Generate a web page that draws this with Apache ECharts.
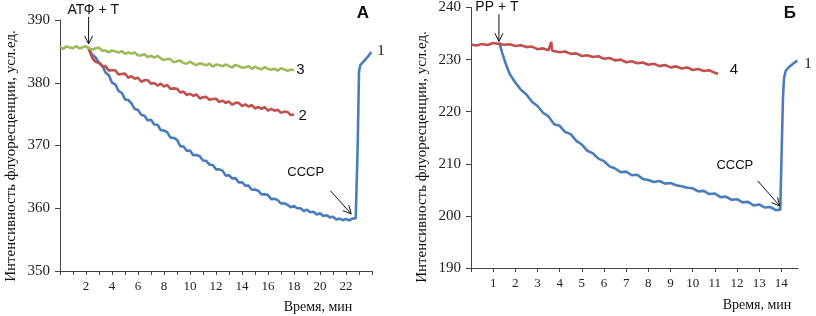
<!DOCTYPE html>
<html>
<head>
<meta charset="utf-8">
<script src="https://cdn.jsdelivr.net/npm/echarts@6.0.0/dist/echarts.min.js"></script>
<style>
    html, body {margin: 0; padding: 0; background: #fff;}
    #chart {width: 816px; height: 316px;}
</style>
</head>
<body>
<div id="chart"></div>
<script>
// панель А: [время, мин; интенсивность]
var curveA1 = [[2.2,385.5],[2.5,384.4],[2.75,384.0],[3,383.2],[3.25,382.75],[3.5,381.65],[3.75,381.2],[4,380.0],[4.25,379.75],[4.5,378.7],[4.75,378.4],[5,377.35],[5.25,377.25],[5.5,376.7],[5.75,375.8],[6,375.65],[6.25,374.9],[6.5,374.75],[6.75,374.0],[7,374.1],[7.25,373.35],[7.5,373.3],[7.75,372.45],[8,372.4],[8.25,372.1],[8.5,371.25],[8.75,371.2],[9,370.9],[9.25,369.9],[9.5,369.85],[9.75,369.15],[10,369.2],[10.25,368.45],[10.5,368.5],[10.75,368.3],[11,367.6],[11.25,367.55],[11.5,366.95],[11.75,366.9],[12,366.2],[12.25,366.2],[12.5,366.0],[12.75,365.2],[13,365.25],[13.25,364.75],[13.5,364.8],[13.75,364.1],[14,364.15],[14.25,363.6],[14.5,363.6],[14.75,362.95],[15,363.0],[15.25,362.8],[15.5,362.2],[15.75,362.25],[16,362.1],[16.25,361.45],[16.5,361.5],[16.75,361.3],[17,360.75],[17.25,360.8],[17.5,360.55],[17.75,360.15],[18,360.35],[18.25,360.0],[18.5,360.0],[18.75,359.55],[19,359.75],[19.25,359.35],[19.5,359.45],[19.75,359.0],[20,359.2],[20.25,358.75],[20.5,358.9],[20.75,358.55],[21,358.65],[21.25,358.2],[21.5,358.35],[21.75,358.1],[22,358.3],[22.25,358.05],[22.5,358.35],[22.75,358.4],[22.9,370.0],[23.0,381.8],[23.1,382.8],[23.4,383.5],[23.7,384.2],[23.95,384.9]];
var curveA2 = [[2.2,385.4],[2.5,383.9],[2.75,383.3],[3,383.2],[3.25,382.6],[3.5,382.65],[3.75,381.95],[4,382.0],[4.25,382.0],[4.5,381.3],[4.75,381.4],[5,381.45],[5.25,380.8],[5.5,381.05],[5.75,380.65],[6,380.8],[6.25,380.15],[6.5,380.4],[6.75,380.4],[7,379.85],[7.25,379.95],[7.5,379.55],[7.75,379.85],[8,379.4],[8.25,379.65],[8.5,379.0],[8.75,379.1],[9,379.05],[9.25,378.45],[9.5,378.6],[9.75,378.05],[10,378.25],[10.25,377.9],[10.5,378.15],[10.75,377.5],[11,377.7],[11.25,377.75],[11.5,377.3],[11.75,377.4],[12,377.45],[12.25,376.9],[12.5,377.15],[12.75,376.8],[13,377.0],[13.25,376.5],[13.5,376.8],[13.75,376.8],[14,376.3],[14.25,376.55],[14.5,376.2],[14.75,376.45],[15,375.9],[15.25,376.15],[15.5,375.85],[15.75,376.1],[16,375.55],[16.25,375.85],[16.5,375.55],[16.75,375.7],[17,375.2],[17.25,375.4],[17.5,375.35],[17.75,374.85],[18,374.95]];
var curveA3 = [[0,385.7],[0.25,385.4],[0.5,385.8],[0.75,385.6],[1,385.5],[1.25,385.85],[1.5,385.45],[1.75,385.65],[2,385.8],[2.25,385.45],[2.5,385.3],[2.75,385.5],[3,385.6],[3.25,385.1],[3.5,385.15],[3.75,384.85],[4,385.15],[4.25,385.0],[4.5,384.8],[4.75,385.05],[5,384.6],[5.25,384.82],[5.5,384.65],[5.75,384.83],[6,384.35],[6.25,384.37],[6.5,384.55],[6.75,384.08],[7,384.3],[7.25,384.0],[7.5,384.3],[7.75,383.9],[8,383.6],[8.25,383.8],[8.5,383.75],[8.75,383.25],[9,383.45],[9.25,383.52],[9.5,383.15],[9.75,383.03],[10,383.35],[10.25,383.05],[10.5,382.8],[10.75,383.1],[11,382.95],[11.25,382.78],[11.5,383.05],[11.75,382.57],[12,382.9],[12.25,382.83],[12.5,382.6],[12.75,382.92],[13,382.65],[13.25,382.45],[13.5,382.85],[13.75,382.65],[14,382.4],[14.25,382.48],[14.5,382.65],[14.75,382.22],[15,382.55],[15.25,382.3],[15.5,382.15],[15.75,382.5],[16,382.2],[16.25,382.08],[16.5,382.25],[16.75,381.92],[17,382.3],[17.25,382.13],[17.5,381.9],[17.75,382.12],[18,382.0]];

// панель Б
var curveB1 = [[1.28,233.3],[1.4,231.4],[1.55,229.4],[1.75,227.2],[2,225.6],[2.25,224.2],[2.5,223.3],[2.75,221.9],[3,221.1],[3.25,219.8],[3.5,219.1],[3.75,217.6],[4,217.3],[4.25,216.1],[4.5,215.7],[4.75,214.4],[5,213.7],[5.25,212.5],[5.5,212.0],[5.75,211.0],[6,210.5],[6.25,209.5],[6.5,209.1],[6.75,208.4],[7,208.5],[7.25,207.8],[7.5,207.9],[7.75,207.1],[8,206.9],[8.25,206.5],[8.5,206.7],[8.75,206.2],[9,206.3],[9.25,205.9],[9.5,205.7],[9.75,205.4],[10,205.3],[10.25,204.7],[10.5,204.8],[10.75,204.2],[11,204.3],[11.25,203.6],[11.5,203.7],[11.75,203.1],[12,203.2],[12.25,202.6],[12.5,202.7],[12.75,202.0],[13,202.2],[13.25,201.6],[13.5,201.7],[13.75,201.1],[13.95,201.2],[14.02,200.9],[14.07,222.5],[14.12,226.5],[14.2,227.9],[14.35,228.6],[14.55,229.3],[14.72,229.8]];
var curveB4 = [[0,232.9],[0.25,232.7],[0.5,233.0],[0.75,232.8],[1,233.2],[1.25,233.0],[1.5,232.85],[1.75,232.95],[2,232.6],[2.25,232.75],[2.5,232.4],[2.75,232.5],[3,232.0],[3.25,232.15],[3.5,231.8],[3.58,231.9],[3.62,233.4],[3.66,231.7],[3.75,231.85],[4,231.4],[4.25,231.55],[4.5,231.1],[4.75,231.2],[5,230.7],[5.25,230.85],[5.5,230.5],[5.75,230.65],[6,230.15],[6.25,230.3],[6.5,229.85],[6.75,230.0],[7,229.5],[7.25,229.7],[7.5,229.3],[7.75,229.45],[8,229.0],[8.25,229.2],[8.5,228.75],[8.75,228.95],[9,228.5],[9.25,228.7],[9.5,228.3],[9.75,228.5],[10,228.0],[10.25,228.2],[10.5,227.8],[10.75,227.95],[11,227.45],[11.15,227.3]];

var ticksA = [0,1,2,3,4,5,6,7,8,9,10,11,12,13,14,15,16,17,18,19,20,21,22,23,24];
var labelsA = [2,4,6,8,10,12,14,16,18,20,22];
var ticksB = [0,1,2,3,4,5,6,7,8,9,10,11,12,13,14];
var labelsB = [1,2,3,4,5,6,7,8,9,10,11,12,13,14];

var yTitle = 'Интенсивность флуоресценции, усл.ед.';
var xTitle = 'Время, мин';

var serif = '"Liberation Serif", "DejaVu Serif", serif';
var sans = '"Liberation Sans", Arial, sans-serif';

function xAxisOf(gi, max, ticks, labels) {
    return {
        type: 'value', gridIndex: gi, min: 0, max: max,
        axisLine: {onZero: false, lineStyle: {color: '#444', width: 1}},
        axisTick: {customValues: ticks, length: 4, lineStyle: {color: '#444'}},
        axisLabel: {customValues: labels, margin: 9, color: '#222', fontFamily: serif, fontSize: 13},
        splitLine: {show: false}
    };
}

function yAxisOf(gi, min, max) {
    return {
        type: 'value', gridIndex: gi, min: min, max: max, interval: 10,
        axisLine: {show: true, lineStyle: {color: '#444', width: 1}},
        axisTick: {show: true, length: 5, lineStyle: {color: '#444'}},
        axisLabel: {margin: 10, color: '#222', fontFamily: serif, fontSize: 15},
        splitLine: {show: false}
    };
}

function line(name, gi, data, color) {
    return {
        name: name, type: 'line', xAxisIndex: gi, yAxisIndex: gi,
        data: data, showSymbol: false, smooth: false,
        lineStyle: {color: color, width: 2.6}
    };
}

function init() {
    var chart = echarts.init(document.getElementById('chart'), null, {renderer: 'canvas'});
    var option = {
        animation: false,
        backgroundColor: '#fff',
        grid: [
            {left: 60, top: 20, width: 312, height: 251},
            {left: 471, top: 7, width: 327, height: 261}
        ],
        xAxis: [xAxisOf(0, 24, ticksA, labelsA), xAxisOf(1, 14.75, ticksB, labelsB)],
        yAxis: [yAxisOf(0, 350, 390), yAxisOf(1, 190, 240)],
        series: [
            line('1', 0, curveA1, '#4a7ebb'),
            line('2', 0, curveA2, '#c0504d'),
            line('3', 0, curveA3, '#9bbb59'),
            line('1', 1, curveB1, '#4a7ebb'),
            line('4', 1, curveB4, '#c0504d')
        ]
    };
    chart.setOption(option);

    // подписи и стрелки в координатах данных
    function px(gi, t, v) {
        return chart.convertToPixel({gridIndex: gi}, [t, v]);
    }
    function text(p, str, font, rot) {
        var el = {
            type: 'text', x: p[0], y: p[1], z: 10,
            style: {text: str, font: font, fill: '#111', align: 'center', verticalAlign: 'middle',
                textAlign: 'center', textVerticalAlign: 'middle'}
        };
        if (rot) el.rotation = rot;
        return el;
    }
    function arrow(p0, p1) {
        var dx = p1[0] - p0[0], dy = p1[1] - p0[1];
        var len = Math.sqrt(dx * dx + dy * dy);
        var ux = dx / len, uy = dy / len;
        var h = 8, w = 4;
        var a = [p1[0] - ux * h - uy * w, p1[1] - uy * h + ux * w];
        var b = [p1[0] - ux * h + uy * w, p1[1] - uy * h - ux * w];
        return [
            {type: 'line', z: 10, shape: {x1: p0[0], y1: p0[1], x2: p1[0], y2: p1[1]}, style: {stroke: '#111', lineWidth: 1}},
            {type: 'polyline', z: 10, shape: {points: [a, p1, b]}, style: {stroke: '#111', lineWidth: 1, fill: null}}
        ];
    }

    var els = [];
    els.push(text([11, 156], yTitle, '15px ' + serif, Math.PI / 2));
    els.push(text([422, 157], yTitle, '15px ' + serif, Math.PI / 2));
    els.push(text([318, 307], xTitle, '14px ' + serif));
    els.push(text([757, 305], xTitle, '14px ' + serif));

    els.push(text(px(0, 2.56, 391.6), 'АТФ + Т', '14px ' + sans));
    els = els.concat(arrow(px(0, 2.2, 390.5), px(0, 2.2, 386.2)));
    els.push(text(px(0, 23.3, 391.0), 'А', 'bold 17px ' + sans));
    els.push(text(px(0, 24.7, 385.0), '1', '15px ' + serif));
    els.push(text(px(0, 18.5, 382.0), '3', '15px ' + sans));
    els.push(text(px(0, 18.67, 374.8), '2', '15px ' + sans));
    els.push(text(px(0, 18.9, 365.7), 'CCCP', '13px ' + sans));
    els = els.concat(arrow(px(0, 20.8, 362.8), px(0, 22.4, 359.1)));

    els.push(text(px(1, 1.17, 240.0), 'PP + T', '14px ' + sans));
    els = els.concat(arrow(px(1, 1.26, 238.7), px(1, 1.26, 233.5)));
    els.push(text(px(1, 14.38, 238.9), 'Б', 'bold 17px ' + sans));
    els.push(text(px(1, 15.2, 229.1), '1', '15px ' + serif));
    els.push(text(px(1, 11.86, 228.1), '4', '15px ' + sans));
    els.push(text(px(1, 11.9, 209.7), 'CCCP', '13px ' + sans));
    els = els.concat(arrow(px(1, 12.94, 206.7), px(1, 13.93, 201.9)));

    chart.setOption({graphic: {elements: els}});
    window.addEventListener('resize', chart.resize);
}

init();
</script>
</body>
</html>
